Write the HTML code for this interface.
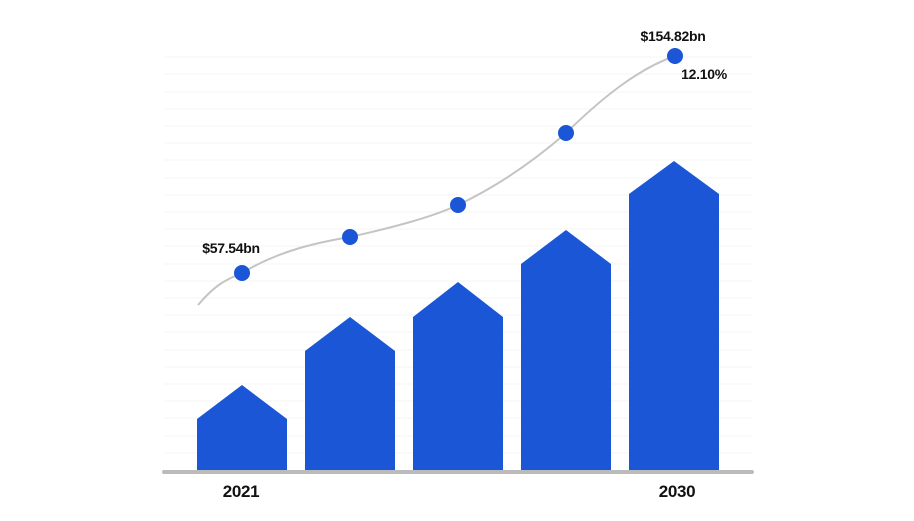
<!DOCTYPE html>
<html><head><style>
body{margin:0;background:#fff;}
svg{display:block}
text{font-family:"Liberation Sans",sans-serif;font-weight:bold;fill:#111;letter-spacing:-0.3px}
</style></head><body>
<svg width="914" height="521" viewBox="0 0 914 521">
<g stroke="#f4f4f4" stroke-width="1">
<line x1="164" x2="752" y1="57" y2="57"/><line x1="164" x2="752" y1="74" y2="74"/><line x1="164" x2="752" y1="92" y2="92"/><line x1="164" x2="752" y1="109" y2="109"/><line x1="164" x2="752" y1="126" y2="126"/><line x1="164" x2="752" y1="143" y2="143"/><line x1="164" x2="752" y1="160" y2="160"/><line x1="164" x2="752" y1="178" y2="178"/><line x1="164" x2="752" y1="195" y2="195"/><line x1="164" x2="752" y1="212" y2="212"/><line x1="164" x2="752" y1="229" y2="229"/><line x1="164" x2="752" y1="246" y2="246"/><line x1="164" x2="752" y1="264" y2="264"/><line x1="164" x2="752" y1="281" y2="281"/><line x1="164" x2="752" y1="298" y2="298"/><line x1="164" x2="752" y1="315" y2="315"/><line x1="164" x2="752" y1="332" y2="332"/><line x1="164" x2="752" y1="350" y2="350"/><line x1="164" x2="752" y1="367" y2="367"/><line x1="164" x2="752" y1="384" y2="384"/><line x1="164" x2="752" y1="401" y2="401"/><line x1="164" x2="752" y1="418" y2="418"/><line x1="164" x2="752" y1="436" y2="436"/><line x1="164" x2="752" y1="453" y2="453"/>
</g>
<g fill="#1a56d6">
<polygon points="197,472 197,419 242,385 287,419 287,472"/>
<polygon points="305,472 305,351 350,317 395,351 395,472"/>
<polygon points="413,472 413,317 458,282 503,317 503,472"/>
<polygon points="521,472 521,264 566,230 611,264 611,472"/>
<polygon points="629,472 629,194 674,161 719,194 719,472"/>
</g>
<line x1="164" x2="752" y1="472" y2="472" stroke="#bbb" stroke-width="4" stroke-linecap="round"/>
<path d="M198,305 C215,285 225,280 242,273 C280,250 320,242 350,237 C390,228 430,218 458,205 C500,185 535,160 566,133 C605,95 640,68 675,56" fill="none" stroke="#c4c4c4" stroke-width="2"/>
<g fill="#1a56d6">
<circle cx="242" cy="273" r="8"/><circle cx="350" cy="237" r="8"/><circle cx="458" cy="205" r="8"/><circle cx="566" cy="133" r="8"/><circle cx="675" cy="56" r="8"/>
</g>
<text x="231" y="253" font-size="14" text-anchor="middle">$57.54bn</text>
<text x="673" y="41" font-size="14" text-anchor="middle">$154.82bn</text>
<text x="704" y="79" font-size="14" text-anchor="middle">12.10%</text>
<text x="241" y="497" font-size="17" text-anchor="middle">2021</text>
<text x="677" y="497" font-size="17" text-anchor="middle">2030</text>
</svg>
</body></html>
